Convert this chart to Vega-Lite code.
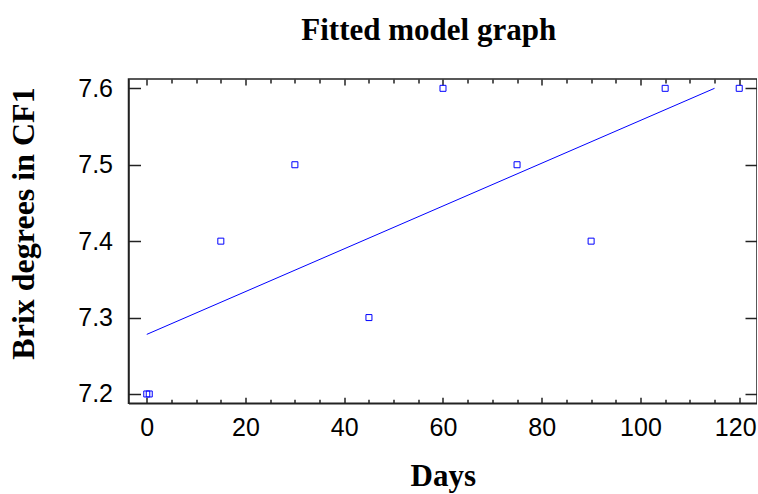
{
  "$schema": "https://vega.github.io/schema/vega-lite/v6.json",
  "width": 628.5,
  "height": 324.3,
  "autosize": {"type": "none"},
  "padding": {"left": 128.5, "top": 79, "right": 0, "bottom": 90.7},
  "background": "white",
  "title": {
    "text": "Fitted model graph",
    "font": "Liberation Serif",
    "fontSize": 31,
    "fontWeight": "bold",
    "color": "black",
    "anchor": "middle",
    "baseline": "alphabetic",
    "offset": 5,
    "dx": -14
  },
  "config": {
    "view": {"stroke": "#222", "strokeWidth": 1.5},
    "axis": {
      "domainColor": "#222",
      "domainWidth": 1.5,
      "tickColor": "#222",
      "tickWidth": 1.5,
      "grid": false,
      "labelFont": "Liberation Sans",
      "labelFontSize": 25,
      "labelColor": "black",
      "titleFont": "Liberation Serif",
      "titleFontSize": 31,
      "titleFontWeight": "bold",
      "titleColor": "black"
    }
  },
  "layer": [
    {
      "data": {
        "values": [
          {"Days": 0, "Brix": 7.2},
          {"Days": 0.5, "Brix": 7.2},
          {"Days": 15, "Brix": 7.4},
          {"Days": 30, "Brix": 7.5},
          {"Days": 45, "Brix": 7.3},
          {"Days": 60, "Brix": 7.6},
          {"Days": 75, "Brix": 7.5},
          {"Days": 90, "Brix": 7.4},
          {"Days": 105, "Brix": 7.6},
          {"Days": 120, "Brix": 7.6}
        ]
      },
      "mark": {"type": "point", "shape": "square", "filled": false, "color": "#0000ff", "size": 36, "strokeWidth": 1, "opacity": 1},
      "encoding": {
        "x": {
          "field": "Days", "type": "quantitative",
          "scale": {"domain": [-3.7, 123.6], "nice": false, "zero": false},
          "axis": {
            "orient": "bottom",
            "title": "Days",
            "titleBaseline": "alphabetic",
            "titleY": 82,
            "values": [0,5,10,15,20,25,30,35,40,45,50,55,60,65,70,75,80,85,90,95,100,105,110,115,120],
            "labelExpr": "datum.value % 20 === 0 ? datum.label : ''",
            "tickSize": {"condition": {"test": "datum.value % 20 === 0", "value": -6}, "value": -4},
            "labelOffset": {"condition": {"test": "datum.value === 120", "value": -4}, "value": 0},
            "labelPadding": 18,
            "labelFlush": false
          }
        },
        "y": {
          "field": "Brix", "type": "quantitative",
          "scale": {"domain": [7.1878, 7.6122], "nice": false, "zero": false},
          "axis": {
            "orient": "left",
            "title": "Brix degrees in CF1",
            "titleFontSize": 32,
            "titleBaseline": "alphabetic",
            "titleX": -95,
            "titleY": 144,
            "values": [7.2, 7.3, 7.4, 7.5, 7.6],
            "format": ".1f",
            "tickSize": -12,
            "labelPadding": 28,
            "labelFlush": false
          }
        }
      }
    },
    {
      "data": {
        "values": [
          {"Days": 0, "Fit": 7.278},
          {"Days": 115, "Fit": 7.6}
        ]
      },
      "mark": {"type": "line", "color": "#0000ff", "strokeWidth": 1},
      "encoding": {
        "x": {
          "field": "Days", "type": "quantitative",
          "axis": {
            "orient": "top",
            "title": null,
            "labels": false,
            "domain": false,
            "values": [0,5,10,15,20,25,30,35,40,45,50,55,60,65,70,75,80,85,90,95,100,105,110,115,120],
            "tickSize": {"condition": {"test": "datum.value % 20 === 0", "value": -6}, "value": -4}
          }
        },
        "y": {
          "field": "Fit", "type": "quantitative",
          "axis": {
            "orient": "right",
            "title": null,
            "labels": false,
            "domain": false,
            "values": [7.2, 7.3, 7.4, 7.5, 7.6],
            "tickSize": -12
          }
        }
      }
    }
  ],
  "resolve": {"axis": {"x": "independent", "y": "independent"}}
}
